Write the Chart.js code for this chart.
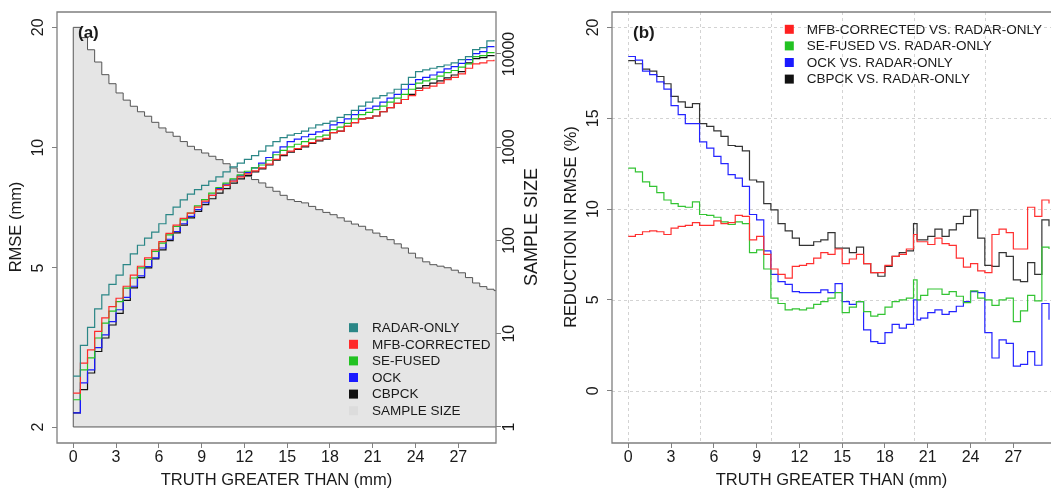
<!DOCTYPE html>
<html>
<head>
<meta charset="utf-8">
<script src="https://cdn.jsdelivr.net/npm/chart.js@4"></script>
<style>
    html, body { margin: 0; padding: 0; background: #fff; }
    #wrap { position: relative; width: 1051px; height: 489px; overflow: hidden; }
    #chartA { position: absolute; left: 0; top: 0; }
    #chartB { position: absolute; left: 555px; top: 0; }
</style>
</head>
<body>
<div id="wrap">
    <canvas id="chartA" width="555" height="489"></canvas>
    <canvas id="chartB" width="496" height="489"></canvas>
</div>
<script>
// ---- shared x axis (truth greater than, mm) ----
const X_MIN = -1.14, X_MAX = 29.64;
const xTicks = [0, 3, 6, 9, 12, 15, 18, 21, 24, 27];

// ---- panel (a): RMSE (left, log) and sample size (right, log) ----
const rmseTicks = [2, 5, 10, 20];
const sampleTicks = [1, 10, 100, 1000, 10000];

const xA = [0, 0.5, 1, 1.5, 2, 2.5, 3, 3.5, 4, 4.5, 5, 5.5, 6, 6.5, 7, 7.5, 8, 8.5, 9, 9.5,
    10, 10.5, 11, 11.5, 12, 12.5, 13, 13.5, 14, 14.5, 15, 15.5, 16, 16.5, 17, 17.5, 18, 18.5, 19, 19.5,
    20, 20.5, 21, 21.5, 22, 22.5, 23, 23.5, 24, 24.5, 25, 25.5, 26, 26.5, 27, 27.5, 28, 28.5, 29, 29.5];

const radarOnly = [2.68, 3.2, 3.55, 3.95, 4.28, 4.55, 4.8, 5.1, 5.42, 5.7, 5.94, 6.15, 6.45, 6.8, 7.1, 7.4, 7.65, 7.85, 8.05, 8.25,
    8.45, 8.7, 8.95, 9.15, 9.35, 9.55, 9.8, 10.1, 10.35, 10.6, 10.75, 10.85, 11.0, 11.2, 11.4, 11.5, 11.65, 11.9, 12.1, 12.4,
    12.7, 13.0, 13.3, 13.5, 13.7, 14.0, 14.4, 15.0, 15.5, 15.65, 15.8, 15.95, 16.1, 16.3, 16.6, 16.9, 17.6, 17.8, 18.5, 18.6];
const mfbCorrected = [2.43, 2.89, 3.12, 3.47, 3.75, 4.0, 4.2, 4.5, 4.8, 5.05, 5.3, 5.55, 5.82, 6.1, 6.4, 6.65, 6.86, 7.1, 7.35, 7.6,
    7.85, 8.05, 8.25, 8.45, 8.6, 8.75, 8.9, 9.1, 9.35, 9.6, 9.8, 9.95, 10.1, 10.3, 10.45, 10.55, 10.9, 11.0, 11.3, 11.55,
    11.8, 11.85, 12.0, 12.3, 12.6, 12.9, 13.2, 13.5, 13.9, 14.1, 14.25, 14.5, 14.8, 15.0, 15.3, 15.8, 16.2, 16.3, 16.5, 16.6];
const seFused = [2.34, 2.78, 2.98, 3.34, 3.64, 3.9, 4.12, 4.45, 4.72, 5.0, 5.25, 5.5, 5.77, 6.05, 6.35, 6.6, 6.86, 7.15, 7.41, 7.7,
    7.95, 8.15, 8.35, 8.55, 8.73, 8.9, 9.05, 9.3, 9.6, 9.85, 10.05, 10.2, 10.35, 10.5, 10.65, 10.75, 11.1, 11.25, 11.5, 11.8,
    12.1, 12.25, 12.45, 12.7, 13.0, 13.3, 13.6, 14.0, 14.5, 14.7, 14.85, 15.1, 15.4, 15.6, 15.9, 16.2, 16.9, 17.0, 17.3, 17.35];
const ock = [2.17, 2.58, 2.78, 3.16, 3.4, 3.67, 3.93, 4.22, 4.5, 4.78, 5.04, 5.3, 5.61, 5.9, 6.17, 6.45, 6.73, 7.0, 7.28, 7.6,
    7.9, 8.1, 8.3, 8.5, 8.66, 8.9, 9.15, 9.45, 9.75, 10.05, 10.35, 10.5, 10.65, 10.8, 10.95, 11.05, 11.4, 11.55, 11.8, 12.1,
    12.4, 12.55, 12.7, 13.0, 13.3, 13.6, 14.0, 14.4, 14.8, 15.0, 15.2, 15.45, 15.75, 15.95, 16.25, 16.6, 17.2, 17.4, 17.9, 17.95];
const cbpck = [2.17, 2.48, 2.73, 3.09, 3.34, 3.6, 3.85, 4.15, 4.46, 4.73, 5.0, 5.27, 5.55, 5.85, 6.12, 6.4, 6.67, 6.93, 7.2, 7.45,
    7.7, 7.9, 8.15, 8.35, 8.52, 8.7, 8.85, 9.05, 9.3, 9.55, 9.75, 9.9, 10.05, 10.25, 10.4, 10.5, 10.9, 11.0, 11.3, 11.55,
    11.8, 11.85, 12.0, 12.3, 12.6, 12.9, 13.2, 13.6, 14.1, 14.3, 14.5, 14.7, 14.95, 15.2, 15.5, 16.3, 16.7, 16.8, 17.0, 17.05];
const sampleSize = [19300, 15000, 11100, 8200, 6000, 4800, 3820, 3200, 2750, 2400, 2150, 1850, 1610, 1450, 1310, 1150, 1023, 940, 867, 800,
    736, 665, 599, 540, 488, 450, 414, 372, 337, 305, 274, 262, 253, 232, 214, 200, 189, 175, 161, 150,
    142, 130, 120, 110, 102, 92, 83, 73, 65, 59, 55, 53, 51, 48, 45, 40, 35, 32, 30, 29];

// ---- panel (b): reduction in RMSE (%) ----
const reductionTicks = [0, 5, 10, 15, 20];
const gridX = [0, 5, 10, 15, 20, 25];

const xB = [0, 0.5, 1, 1.5, 2, 2.5, 3, 3.5, 4, 4.5, 5, 5.5, 6, 6.5, 7, 7.5, 8, 8.5, 9, 9.5,
    10, 10.5, 11, 11.5, 12, 12.5, 13, 13.5, 14, 14.5, 15, 15.5, 16, 16.5, 17, 17.5, 18, 18.5, 19, 19.5,
    20, 20.25, 20.5, 21, 21.5, 22, 22.5, 23, 23.5, 24, 24.5, 25, 25.5, 26, 26.5, 27, 27.5, 28, 28.5, 29, 29.5];

const mfbVsRadar = [8.5, 8.6, 8.75, 8.8, 8.75, 8.6, 8.95, 9.05, 9.1, 9.25, 9.1, 9.1, 9.35, 9.2, 9.25, 9.65, 9.6, 8.3, 8.5, 7.5,
    6.7, 6.4, 6.2, 6.85, 6.9, 7.0, 7.3, 7.6, 7.5, 7.8, 7.0, 7.25, 7.5, 7.0, 6.5, 6.5, 6.9, 7.4, 7.5, 7.8,
    8.6, 8.2, 8.2, 8.05, 8.4, 8.1, 8.0, 7.3, 6.8, 7.0, 6.6, 6.5, 8.6, 8.9, 8.7, 7.8, 7.8, 10.1, 9.6, 10.5, 10.3];
const seVsRadar = [12.25, 12.05, 11.5, 11.25, 10.9, 10.5, 10.3, 10.15, 10.1, 10.4, 9.7, 9.65, 9.55, 9.3, 9.15, 9.3, 9.2, 7.6, 7.75, 6.7,
    5.1, 4.8, 4.45, 4.5, 4.45, 4.55, 4.75, 4.9, 5.1, 5.4, 4.3, 4.6, 4.9, 4.35, 4.1, 4.2, 4.6, 4.9, 5.0, 5.1,
    6.1, 5.0, 5.25, 5.6, 5.6, 5.3, 5.45, 5.2, 4.85, 5.5, 5.1, 5.0, 4.7, 5.0, 5.1, 3.8, 4.4, 5.25, 4.95, 7.9, 7.8];
const ockVsRadar = [18.4, 18.2, 17.6, 17.4, 17.0, 16.6, 15.7, 15.2, 14.7, 14.7, 13.7, 13.35, 12.9, 12.5, 11.9, 11.7, 11.25, 9.7, 9.4, 7.7,
    6.4, 6.0, 5.85, 5.45, 5.4, 5.4, 5.4, 5.55, 5.4, 5.9, 4.9, 4.75, 4.9, 3.35, 2.7, 2.6, 3.2, 3.65, 3.45, 3.65,
    5.0, 3.9, 4.0, 4.3, 4.45, 4.2, 4.35, 4.65, 4.9, 5.45, 5.4, 3.2, 1.8, 2.8, 2.6, 1.35, 1.45, 2.15, 1.4, 4.8, 3.9];
const cbpckVsRadar = [18.17, 18.0, 17.7, 17.6, 17.3, 16.9, 16.2, 15.9, 15.6, 15.8, 14.7, 14.55, 14.3, 14.0, 13.5, 13.45, 13.2, 11.6, 11.5, 10.3,
    9.96, 9.2, 8.8, 8.4, 8.0, 8.0, 8.2, 8.3, 8.7, 7.85, 7.85, 7.6, 7.9, 7.0, 6.5, 6.3, 6.85, 7.4, 7.6, 7.7,
    9.2, 8.3, 8.3, 8.5, 8.9, 8.5, 8.85, 9.2, 9.6, 9.96, 8.4, 6.9, 6.85, 7.6, 7.4, 6.1, 6.0, 7.05, 6.4, 9.4, 9.05];

const FONT = '"Liberation Sans", Arial, sans-serif';

function toXY(xs, ys) {
    return xs.map((x, i) => ({ x: x, y: ys[i] }));
}

function stepLine(label, xs, ys, color, axis) {
    return {
        label: label,
        data: toXY(xs, ys),
        borderColor: color,
        backgroundColor: color,
        yAxisID: axis,
        stepped: true,
        borderWidth: 1.2,
        pointRadius: 0,
        fill: false,
        order: 1
    };
}

// x axis used by both panels: ticks only, labels drawn by the decor plugin
function xScale() {
    return {
        type: 'linear',
        min: X_MIN,
        max: X_MAX,
        afterBuildTicks: s => { s.ticks = xTicks.map(v => ({ value: v })); },
        afterFit: s => { s.height = 46; s.paddingLeft = 0; s.paddingRight = 0; },
        ticks: { display: false },
        grid: { drawOnChartArea: false, tickLength: 5, color: '#808080' },
        border: { display: false }
    };
}

function yScale(type, pos, min, max, ticks, width) {
    return {
        type: type,
        position: pos,
        min: min,
        max: max,
        afterBuildTicks: s => { s.ticks = ticks.map(v => ({ value: v })); },
        afterFit: s => { s.width = width; s.paddingTop = 0; s.paddingBottom = 0; },
        ticks: { display: false },
        grid: { drawOnChartArea: false, tickLength: 5, color: '#808080' },
        border: { display: false }
    };
}

// Draws box, dashed grid, tick labels, titles, panel letter and legend
const decor = {
    id: 'decor',
    beforeDatasetsDraw(chart, args, o) {
        if (!o.grid) return;
        const ctx = chart.ctx, a = chart.chartArea;
        const sx = chart.scales.x, sy = chart.scales.y;
        ctx.save();
        ctx.strokeStyle = '#d3d3d3';
        ctx.lineWidth = 1;
        ctx.setLineDash([3, 3]);
        o.grid.x.forEach(v => {
            const p = Math.round(sx.getPixelForValue(v)) + 0.5;
            ctx.beginPath(); ctx.moveTo(p, a.top); ctx.lineTo(p, a.bottom); ctx.stroke();
        });
        o.grid.y.forEach(v => {
            const p = Math.round(sy.getPixelForValue(v)) + 0.5;
            ctx.beginPath(); ctx.moveTo(a.left, p); ctx.lineTo(a.right, p); ctx.stroke();
        });
        ctx.restore();
    },
    afterDraw(chart, args, o) {
        const ctx = chart.ctx, a = chart.chartArea, sc = chart.scales;
        ctx.save();

        // plot box
        ctx.strokeStyle = '#7f7f7f';
        ctx.lineWidth = 1.3;
        ctx.beginPath();
        if (o.openRight) {
            ctx.moveTo(a.right + 2, a.top);
            ctx.lineTo(a.left, a.top);
            ctx.lineTo(a.left, a.bottom);
            ctx.lineTo(a.right + 2, a.bottom);
        } else {
            ctx.rect(a.left, a.top, a.right - a.left, a.bottom - a.top);
        }
        ctx.stroke();

        ctx.fillStyle = '#1a1a1a';
        ctx.textAlign = 'center';
        ctx.textBaseline = 'middle';
        const tickFont = '16px ' + FONT;
        const rotText = (text, x, y, font) => {
            ctx.save();
            ctx.translate(x, y);
            ctx.rotate(-Math.PI / 2);
            ctx.font = font;
            ctx.fillText(text, 0, 0);
            ctx.restore();
        };

        // tick labels
        ctx.font = tickFont;
        xTicks.forEach(v => ctx.fillText(String(v), sc.x.getPixelForValue(v), 458));
        o.yTicks.forEach(v => rotText(String(v), 39, sc.y.getPixelForValue(v), tickFont));
        if (o.y2Ticks) {
            o.y2Ticks.forEach(v => rotText(String(v), a.right + 14, sc.y2.getPixelForValue(v), tickFont));
        }

        // axis titles
        const mid = (a.left + a.right) / 2;
        ctx.font = '16.5px ' + FONT;
        ctx.fillText('TRUTH GREATER THAN (mm)', mid, 480);
        rotText(o.yTitle, 16.5, 227, '16.5px ' + FONT);
        if (o.y2Title) rotText(o.y2Title, a.right + 36, 227, '18px ' + FONT);

        // panel letter
        ctx.textAlign = 'left';
        ctx.font = 'bold 17px ' + FONT;
        ctx.fillText(o.letter, 78, 33);

        // legend
        ctx.font = '13.5px ' + FONT;
        o.legend.items.forEach((it, i) => {
            const y = o.legend.y + i * 16.6;
            ctx.fillStyle = it.color;
            ctx.fillRect(o.legend.box - 4.5, y - 4.5, 9, 9);
            ctx.fillStyle = '#1a1a1a';
            ctx.fillText(it.label, o.legend.text, y + 0.5);
        });
        ctx.restore();
    }
};

// ---- Chart (a) ----
const colors = {
    radar: '#2a8686',
    mfb: '#ff2a2a',
    se: '#22c222',
    ock: '#1a1aff',
    cbpck: '#111111',
    sample: '#e5e5e5'
};

new Chart(document.getElementById('chartA'), {
    type: 'line',
    data: {
        datasets: [
            stepLine('RADAR-ONLY', xA, radarOnly, colors.radar, 'y'),
            stepLine('MFB-CORRECTED', xA, mfbCorrected, colors.mfb, 'y'),
            stepLine('SE-FUSED', xA, seFused, colors.se, 'y'),
            stepLine('OCK', xA, ock, colors.ock, 'y'),
            stepLine('CBPCK', xA, cbpck, colors.cbpck, 'y'),
            {
                label: 'SAMPLE SIZE',
                data: [{ x: xA[0], y: 1 }].concat(toXY(xA, sampleSize), [{ x: X_MAX, y: sampleSize[sampleSize.length - 1] }]),
                yAxisID: 'y2',
                stepped: true,
                borderColor: '#555555',
                borderWidth: 1,
                backgroundColor: colors.sample,
                fill: { value: 1 },
                pointRadius: 0,
                order: 3
            },
            {
                label: 'base',
                data: [{ x: xA[0], y: 1 }, { x: X_MAX, y: 1 }],
                yAxisID: 'y2',
                borderColor: '#555555',
                borderWidth: 1,
                pointRadius: 0,
                fill: false,
                order: 2
            }
        ]
    },
    options: {
        responsive: false,
        animation: false,
        layout: { padding: { top: 12, left: 0, right: 0, bottom: 0 } },
        scales: {
            x: xScale(),
            y: yScale('logarithmic', 'left', 1.824, 21.85, rmseTicks, 57),
            y2: yScale('logarithmic', 'right', 0.673, 28200, sampleTicks, 59)
        },
        plugins: {
            legend: { display: false },
            tooltip: { enabled: false },
            decor: {
                letter: '(a)',
                yTicks: rmseTicks,
                y2Ticks: sampleTicks,
                yTitle: 'RMSE (mm)',
                y2Title: 'SAMPLE SIZE',
                legend: {
                    box: 353.5, text: 372, y: 327.7,
                    items: [
                        { label: 'RADAR-ONLY', color: colors.radar },
                        { label: 'MFB-CORRECTED', color: colors.mfb },
                        { label: 'SE-FUSED', color: colors.se },
                        { label: 'OCK', color: colors.ock },
                        { label: 'CBPCK', color: colors.cbpck },
                        { label: 'SAMPLE SIZE', color: '#dcdcdc' }
                    ]
                }
            }
        }
    },
    plugins: [decor]
});

// ---- Chart (b) ----
new Chart(document.getElementById('chartB'), {
    type: 'line',
    data: {
        datasets: [
            stepLine('MFB-CORRECTED VS. RADAR-ONLY', xB, mfbVsRadar, '#ff3030', 'y'),
            stepLine('SE-FUSED VS. RADAR-ONLY', xB, seVsRadar, '#33c433', 'y'),
            stepLine('OCK VS. RADAR-ONLY', xB, ockVsRadar, '#2424ff', 'y'),
            stepLine('CBPCK VS. RADAR-ONLY', xB, cbpckVsRadar, '#333333', 'y')
        ]
    },
    options: {
        responsive: false,
        animation: false,
        layout: { padding: { top: 12, left: 0, right: 0, bottom: 0 } },
        scales: {
            x: xScale(),
            y: yScale('linear', 'left', -2.88, 20.85, reductionTicks, 57)
        },
        plugins: {
            legend: { display: false },
            tooltip: { enabled: false },
            decor: {
                letter: '(b)',
                openRight: true,
                grid: { x: gridX, y: reductionTicks },
                yTicks: reductionTicks,
                yTitle: 'REDUCTION IN RMSE (%)',
                legend: {
                    box: 234.3, text: 251.7, y: 29.3,
                    items: [
                        { label: 'MFB-CORRECTED VS. RADAR-ONLY', color: '#ff2020' },
                        { label: 'SE-FUSED VS. RADAR-ONLY', color: '#22c222' },
                        { label: 'OCK VS. RADAR-ONLY', color: '#1a1aff' },
                        { label: 'CBPCK VS. RADAR-ONLY', color: '#111111' }
                    ]
                }
            }
        }
    },
    plugins: [decor]
});
</script>
</body>
</html>
